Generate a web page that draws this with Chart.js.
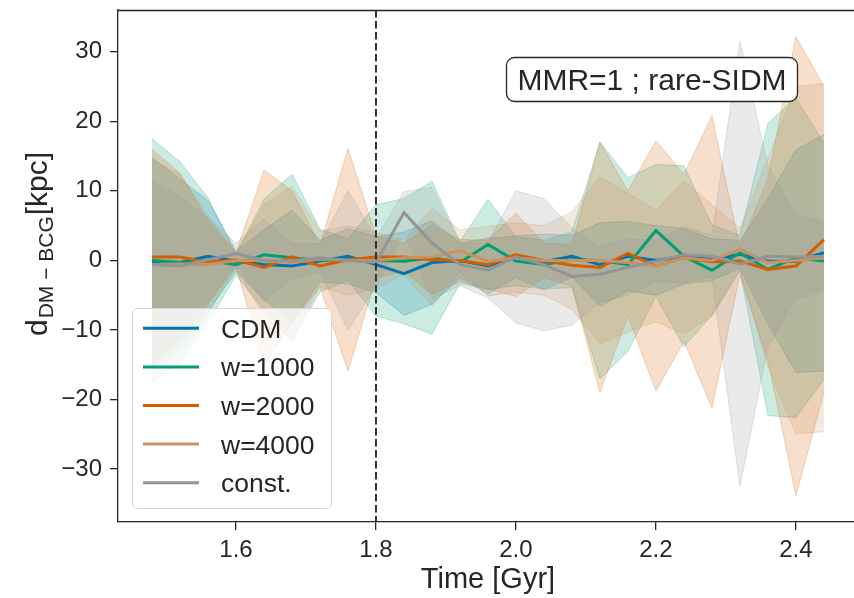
<!DOCTYPE html>
<html>
<head>
<meta charset="utf-8">
<script src="https://cdn.jsdelivr.net/npm/chart.js@4.4.1/dist/chart.umd.min.js"></script>
<style>
html, body { margin: 0; padding: 0; background: #fff; }
#wrap { width: 854px; height: 598px; }
</style>
</head>
<body>
<div id="wrap"><canvas id="chartOffset" width="854" height="598"></canvas></div>
<script>
// ===============================
// Data
// ===============================
const times = [1.48, 1.52, 1.56, 1.60, 1.64, 1.68, 1.72, 1.76, 1.80, 1.84, 1.88, 1.92, 1.96,
               2.00, 2.04, 2.08, 2.12, 2.16, 2.20, 2.24, 2.28, 2.32, 2.36, 2.40, 2.44];
const xTicks = [1.6, 1.8, 2.0, 2.2, 2.4];
const yTicks = [-30, -20, -10, 0, 10, 20, 30];
const seriesNames = ["CDM", "w=1000", "w=2000", "w=4000", "const."];

// mean offset per snapshot
const meanCDM   = [-0.2, -0.3, 0.6, -0.1, -0.6, -0.8, -0.1, 0.6, -0.6, -1.9, -0.3, 0.0, -0.8,
                   0.5, -0.2, 0.6, -0.6, 0.6, 0.0, 0.6, 0.1, 0.9, -0.1, -0.1, 1.1];
const meanW1000 = [0.0, -0.3, 0.0, -0.6, 0.8, 0.4, 0.0, 0.1, 0.0, -0.1, 0.4, -0.3, 2.3,
                   -0.1, -0.6, 0.1, 0.0, -0.6, 4.3, 0.6, -1.4, 1.1, -1.3, 0.4, -0.1];
const meanW2000 = [0.5, 0.5, -0.3, 0.1, -1.0, 0.5, -0.8, 0.1, 0.5, 0.5, 0.1, 0.0, -0.6,
                   0.8, 0.0, -0.7, -1.0, 1.0, -0.8, 0.4, -0.2, -0.1, -1.3, -0.8, 3.0];
const meanW4000 = [-0.6, -0.5, -0.6, 0.0, 0.0, -0.3, 0.2, 0.0, 0.0, 0.4, 0.5, 1.4, -0.1,
                   0.4, 0.0, 0.0, 0.0, -0.3, -0.8, 0.4, 0.0, 1.6, -0.3, 0.0, 0.4];
const meanConst = [-0.6, -0.8, 0.1, 1.0, 0.0, -0.1, 0.4, 0.0, -0.3, 6.9, 2.5, -0.6, -1.4,
                   0.5, -0.6, -2.3, -2.0, -1.0, -0.1, 0.8, 0.6, -0.5, 0.6, 0.5, 0.6];

// half width of the shaded band
const spreadCDM   = [15, 12, 8, 1.5, 5, 8, 3, 4, 4, 6, 6, 2.5, 4, 3, 4, 3, 6, 5, 5, 4, 3, 2, 9, 16, 17];
const spreadW1000 = [17.5, 14.5, 9, 1.5, 8, 12, 4.5, 3, 8, 9, 11, 3, 6.5, 3.5, 3.5, 4, 17, 12.5, 9.5, 13, 6.5, 2.5, 21, 23, 17];
const spreadW2000 = [15.5, 12, 6, 1, 14, 9.5, 3, 16, 3, 2, 5, 3, 3.5, 6, 2.5, 3, 18, 9, 18, 12, 21, 2, 13, 33, 22];
const spreadW4000 = [15, 13, 7, 1, 8, 11, 4, 5, 4, 2.5, 7, 3, 5, 5, 5, 7, 12, 10, 8, 11, 8, 3, 15, 25, 25];
const spreadConst = [12, 10, 6, 1.5, 6, 2.5, 2, 10, 3.5, 3, 8, 3, 4, 9.5, 9.5, 7, 4, 4, 3, 4, 3, 32, 13, 6, 5];

const vlineTime = 1.8;
const boxText = "MMR=1 ; rare-SIDM";

// ===============================
// Styling
// ===============================
const means = [meanCDM, meanW1000, meanW2000, meanW4000, meanConst];
const spreads = [spreadCDM, spreadW1000, spreadW2000, spreadW4000, spreadConst];
const warna = [[1, 115, 178], [2, 158, 115], [213, 94, 0], [202, 145, 97], [148, 148, 148]];
const fam = '"Liberation Sans", Arial, sans-serif';
const ink = "#262626";

const rgba = (c, a) => `rgba(${c[0]},${c[1]},${c[2]},${a})`;
const toPts = arr => times.map((t, j) => ({ x: t, y: arr[j] }));

const datasets = [];

// Chart.js draws the highest index first, so lines go first (on top),
// with the last series on top, then bands from last series to first.
for (let i = seriesNames.length - 1; i >= 0; i--) {
    datasets.push({
        label: seriesNames[i],
        data: toPts(means[i]),
        borderColor: rgba(warna[i], 1),
        borderWidth: 3,
        pointRadius: 0,
        fill: false,
        tension: 0
    });
}

for (let i = seriesNames.length - 1; i >= 0; i--) {
    const up = means[i].map((m, j) => m + spreads[i][j]);
    const lo = means[i].map((m, j) => m - spreads[i][j]);
    datasets.push({
        label: seriesNames[i] + " band",
        data: toPts(up),
        borderColor: rgba(warna[i], 0.25),
        backgroundColor: rgba(warna[i], 0.2),
        borderWidth: 1,
        pointRadius: 0,
        fill: "+1",
        tension: 0
    });
    datasets.push({
        label: seriesNames[i] + " band low",
        data: toPts(lo),
        borderColor: rgba(warna[i], 0.25),
        borderWidth: 1,
        pointRadius: 0,
        fill: false,
        tension: 0
    });
}

function roundRect(ctx, x, y, w, h, r) {
    ctx.beginPath();
    ctx.moveTo(x + r, y);
    ctx.arcTo(x + w, y, x + w, y + h, r);
    ctx.arcTo(x + w, y + h, x, y + h, r);
    ctx.arcTo(x, y + h, x, y, r);
    ctx.arcTo(x, y, x + w, y, r);
    ctx.closePath();
}

// ===============================
// Extra drawing: spine, marker line, box, legend, titles
// ===============================
const hiasan = {
    id: "hiasan",
    afterDraw(chart) {
        const ctx = chart.ctx;
        const area = chart.chartArea;
        const xs = chart.scales.x;

        ctx.save();
        // top spine
        ctx.strokeStyle = ink;
        ctx.lineWidth = 1.3;
        ctx.beginPath();
        ctx.moveTo(area.left, area.top + 0.5);
        ctx.lineTo(area.right, area.top + 0.5);
        ctx.stroke();

        // dashed vertical line
        const vx = xs.getPixelForValue(vlineTime);
        ctx.strokeStyle = "#333333";
        ctx.lineWidth = 2;
        ctx.setLineDash([7.5, 3.5]);
        ctx.beginPath();
        ctx.moveTo(vx, area.top);
        ctx.lineTo(vx, area.bottom);
        ctx.stroke();
        ctx.setLineDash([]);

        // text box
        roundRect(ctx, 506.5, 57.5, 291, 44, 8);
        ctx.fillStyle = "#ffffff";
        ctx.fill();
        ctx.strokeStyle = ink;
        ctx.lineWidth = 1.3;
        ctx.stroke();
        ctx.fillStyle = ink;
        ctx.font = "30px " + fam;
        ctx.textAlign = "center";
        ctx.textBaseline = "alphabetic";
        ctx.fillText(boxText, 652, 89.5);

        // legend
        roundRect(ctx, 132.5, 308.5, 199, 200, 5);
        ctx.fillStyle = "rgba(255,255,255,0.8)";
        ctx.fill();
        ctx.strokeStyle = "#d6d6d6";
        ctx.lineWidth = 1;
        ctx.stroke();
        ctx.font = "26.5px " + fam;
        ctx.textAlign = "left";
        for (let i = 0; i < seriesNames.length; i++) {
            const ly = 328.3 + i * 38.6;
            ctx.strokeStyle = rgba(warna[i], 1);
            ctx.lineWidth = 3;
            ctx.beginPath();
            ctx.moveTo(143, ly);
            ctx.lineTo(199, ly);
            ctx.stroke();
            ctx.fillStyle = ink;
            ctx.fillText(seriesNames[i], 221, ly + 9.5);
        }

        // x title
        ctx.font = "29px " + fam;
        ctx.textAlign = "center";
        ctx.fillText("Time [Gyr]", 488, 588);

        // y title with subscript
        ctx.translate(47, 336);
        ctx.rotate(-Math.PI / 2);
        ctx.textAlign = "left";
        ctx.font = "30px " + fam;
        ctx.fillText("d", 0, 0);
        let w = ctx.measureText("d").width + 1;
        ctx.font = "21px " + fam;
        ctx.fillText("DM \u2212 BCG", w, 6);
        w += ctx.measureText("DM \u2212 BCG").width + 1;
        ctx.font = "30px " + fam;
        ctx.fillText("[kpc]", w, 0);
        ctx.restore();
    }
};

// ===============================
// Grafik
// ===============================
const ctx = document.getElementById("chartOffset");

new Chart(ctx, {
    type: "line",
    data: { datasets: datasets },
    options: {
        responsive: false,
        animation: false,
        devicePixelRatio: 1,
        layout: { padding: { top: 10, right: 0, left: 0, bottom: 0 } },
        plugins: {
            legend: { display: false },
            tooltip: { enabled: false }
        },
        scales: {
            x: {
                type: "linear",
                min: 1.4314,
                max: 2.483,
                afterBuildTicks: s => { s.ticks = xTicks.map(v => ({ value: v })); },
                afterFit: s => { s.height = 76; s.paddingLeft = 0; s.paddingRight = 0; },
                ticks: {
                    font: { family: fam, size: 24 },
                    color: ink,
                    padding: 6,
                    maxRotation: 0,
                    autoSkip: false,
                    callback: v => Number(v).toFixed(1)
                },
                grid: { drawOnChartArea: false, drawTicks: true, tickLength: 8, color: ink, lineWidth: 1.3 },
                border: { display: true, color: ink, width: 1.3 }
            },
            y: {
                min: -37.6,
                max: 36.0,
                afterBuildTicks: s => { s.ticks = yTicks.map(v => ({ value: v })); },
                afterFit: s => { s.width = 118; s.paddingTop = 0; s.paddingBottom = 0; },
                ticks: {
                    font: { family: fam, size: 24 },
                    color: ink,
                    padding: 8,
                    autoSkip: false,
                    callback: v => (v < 0 ? "\u2212" + Math.abs(v) : String(v))
                },
                grid: { drawOnChartArea: false, drawTicks: true, tickLength: 8, color: ink, lineWidth: 1.3 },
                border: { display: true, color: ink, width: 1.3 }
            }
        }
    },
    plugins: [hiasan]
});
</script>
</body>
</html>
